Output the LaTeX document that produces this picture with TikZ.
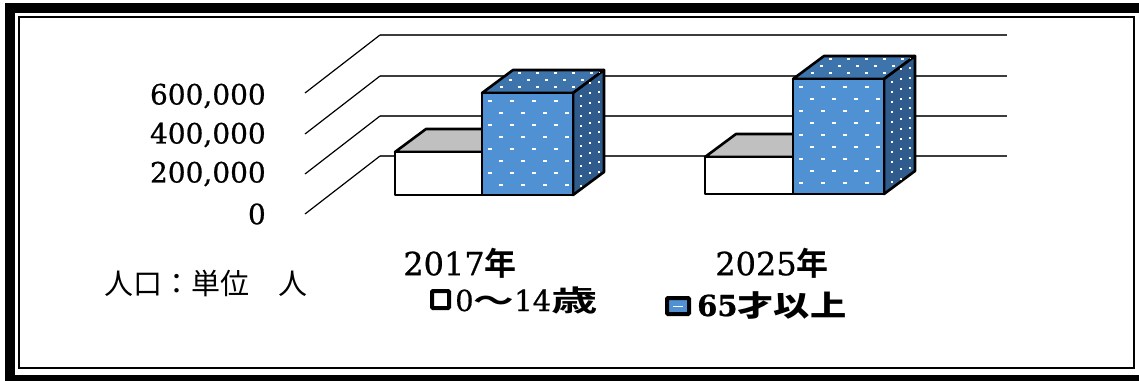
\documentclass[tikz,border=0pt]{standalone}
\usepackage{fontspec}
\usepackage{graphicx}
\setmainfont{DejaVu Serif}
\newfontfamily\numf{DejaVu Serif}[FakeBold=0.7]
\newfontfamily\jp{Noto Sans CJK JP}
\newfontfamily\jpb{Noto Sans CJK JP Bold}
\newcommand\wideja[2]{\scalebox{#1}[1]{\jpb #2}}
\definecolor{bfront}{RGB}{79,145,210}
\definecolor{btop}{RGB}{62,116,172}
\definecolor{bside}{RGB}{47,92,140}
\definecolor{gtop}{RGB}{192,192,192}
\definecolor{gridc}{RGB}{60,60,60}
\newcommand\dotfield[4]{%
  \foreach \r in {0,...,#4}{\foreach \c in {0,...,#3}{%
    \fill[white] ({#1+\c*22+mod(\r,2)*11},{#2+\r*12}) rectangle +(3.5,1.8);}}}
\tikzset{
  face/.style={draw=black,line width=2.6pt,line join=round},
  gridline/.style={draw=gridc,line width=1.6pt},
  diag/.style={draw=black,line width=1.2pt},
  axlab/.style={anchor=east,font=\fontsize{28}{28}\selectfont\numf,inner sep=0pt},
  yearlab/.style={font=\fontsize{32}{32}\selectfont\numf,inner sep=0pt},
  leglab/.style={anchor=west,font=\fontsize{29}{29}\selectfont\numf,inner sep=0pt}
}
\begin{document}
\begin{tikzpicture}[x=1pt,y=-1pt]
\useasboundingbox (0,0) rectangle (1139,380);
\begin{scope}
\clip (0,0) rectangle (1139,380);
% frame
\draw[line width=10pt] (9.5,7.5) rectangle (1170,379.5);
\draw[line width=2pt] (19,17) rectangle (1134,368);
% grid
\foreach \y in {35,76,116,156}{
  \draw[gridline] (380,\y) -- (1007,\y);
  \draw[diag] (305,\y+58) -- (380,\y);
}
\end{scope}
% bars: 2017 white
\def\dx{31}\def\dy{23}
\filldraw[face,fill=gtop] (395,152) -- (395+\dx,152-\dy) -- (482+\dx,152-\dy) -- (482,152) -- cycle;
\filldraw[face,fill=white] (395,152) rectangle (482,195);
% 2017 blue
\filldraw[face,fill=btop] (482,93) -- (482+\dx,93-\dy) -- (573+\dx,93-\dy) -- (573,93) -- cycle;
\filldraw[face,fill=bside] (573,93) -- (573+\dx,93-\dy) -- (573+\dx,195-\dy) -- (573,195) -- cycle;
\filldraw[face,fill=bfront] (482,93) rectangle (573,195);
\begin{scope}\clip (484,95) rectangle (571,193); \dotfield{488}{100}{4}{7}\end{scope}
\begin{scope}\clip (575,93) -- (571+\dx,93-\dy) -- (571+\dx,195-\dy) -- (575,193) -- cycle;
 \foreach \r in {0,...,10}{\foreach \c in {0,1,2}{\fill[white] ({580+\c*9},{85+\r*10-\c*7+mod(\c,2)*4}) rectangle +(1.8,2);}}\end{scope}
\begin{scope}\clip (486,91) -- (482+\dx,95-\dy) -- (571+\dx,95-\dy) -- (571,91) -- cycle;
 \foreach \r in {0,1,2}{\foreach \c in {0,...,5}{\fill[white] ({500+\c*18+\r*9},{86-\r*7}) rectangle +(3,1.5);}}\end{scope}
\draw[face] (482,93) rectangle (573,195);
% 2025 white
\filldraw[face,fill=gtop] (705,157) -- (705+\dx,157-\dy) -- (793+\dx,157-\dy) -- (793,157) -- cycle;
\filldraw[face,fill=white] (705,157) rectangle (793,194);
% 2025 blue
\filldraw[face,fill=btop] (793,79) -- (793+\dx,79-\dy) -- (884+\dx,79-\dy) -- (884,79) -- cycle;
\filldraw[face,fill=bside] (884,79) -- (884+\dx,79-\dy) -- (884+\dx,194-\dy) -- (884,194) -- cycle;
\filldraw[face,fill=bfront] (793,79) rectangle (884,194);
\begin{scope}\clip (795,81) rectangle (882,192); \dotfield{799}{86}{4}{8}\end{scope}
\begin{scope}\clip (886,79) -- (882+\dx,79-\dy) -- (882+\dx,194-\dy) -- (886,192) -- cycle;
 \foreach \r in {0,...,12}{\foreach \c in {0,1,2}{\fill[white] ({891+\c*9},{71+\r*10-\c*7+mod(\c,2)*4}) rectangle +(1.8,2);}}\end{scope}
\begin{scope}\clip (797,77) -- (793+\dx,81-\dy) -- (882+\dx,81-\dy) -- (882,77) -- cycle;
 \foreach \r in {0,1,2}{\foreach \c in {0,...,5}{\fill[white] ({811+\c*18+\r*9},{72-\r*7}) rectangle +(3,1.5);}}\end{scope}
\draw[face] (793,79) rectangle (884,194);
% axis labels
\node[axlab] (l600) at (266,96) {600,000};
\node[axlab] (l400) at (266,135) {400,000};
\node[axlab] (l200) at (266,174) {200,000};
\node[axlab] (l0) at (266,214) {0};
% years
\node[yearlab] (yr1) at (460,263) {2017{\jpb 年}};
\node[yearlab] (yr2) at (772,263) {2025{\jpb 年}};
% unit
\node[anchor=west,inner sep=0pt,font=\fontsize{29}{29}\selectfont\jp] (unit) at (104,283) {人口：単位　人};
% legend
\draw[line width=4pt,fill=white,rounded corners=1pt] (432,291) rectangle (449,308);
\node[leglab] (lg1) at (455,300) {0\wideja{1.4}{～}14\wideja{1.6}{歳}};
\draw[line width=4pt,fill=bfront,rounded corners=1pt] (667,298) rectangle (689,314);
\fill[white] (673,305.5) rectangle (683,307);
\node[leglab] (lg2) at (697,305) {\bfseries 65\wideja{1.25}{才}\wideja{1.25}{以}\wideja{1.25}{上}};
\end{tikzpicture}
\end{document}
